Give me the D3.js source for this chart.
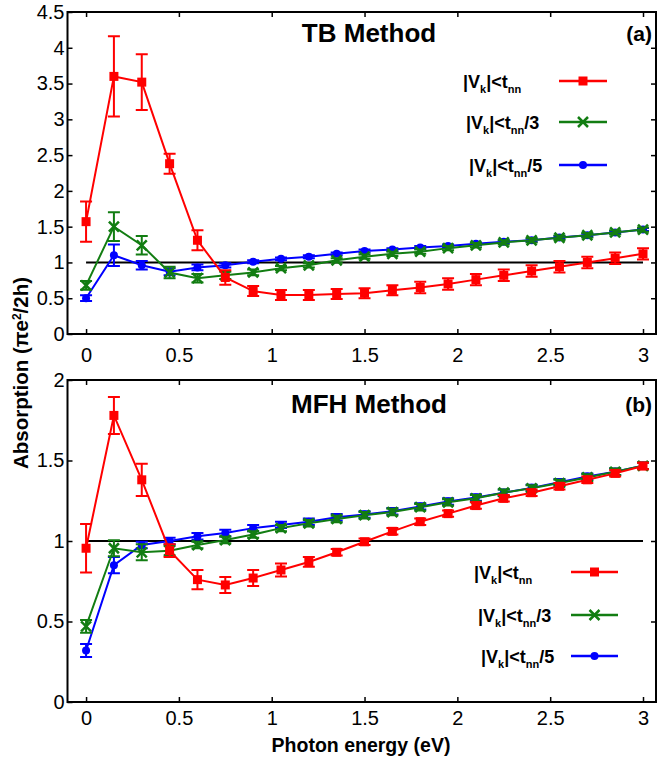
<!DOCTYPE html>
<html>
<head>
<meta charset="utf-8">
<script src="https://cdn.jsdelivr.net/npm/d3@7"></script>
<style>
  html, body { margin: 0; padding: 0; background: #fff; }
  svg { display: block; font-family: "Liberation Sans", Arial, Helvetica, sans-serif; }
</style>
</head>
<body>
<svg id="chart" width="659" height="761"></svg>
<script>
// ---------------- DATA ----------------
const energies = [0, 0.15, 0.3, 0.45, 0.6, 0.75, 0.9, 1.05, 1.2, 1.35, 1.5,
                  1.65, 1.8, 1.95, 2.1, 2.25, 2.4, 2.55, 2.7, 2.85, 3.0];

// Panel (a) TB Method
const tbRed   = [1.57, 3.60, 3.52, 2.38, 1.31, 0.79, 0.60, 0.545, 0.545, 0.56, 0.57,
                 0.61, 0.65, 0.70, 0.76, 0.82, 0.88, 0.94, 1.00, 1.06, 1.12];
const tbRedErr   = [0.28, 0.56, 0.39, 0.14, 0.14, 0.10, 0.07, 0.07, 0.07, 0.07, 0.07,
                    0.07, 0.08, 0.08, 0.08, 0.08, 0.08, 0.08, 0.08, 0.08, 0.08];
const tbGreen = [0.68, 1.50, 1.24, 0.86, 0.78, 0.82, 0.86, 0.92, 0.96, 1.03, 1.08,
                 1.12, 1.15, 1.20, 1.24, 1.28, 1.31, 1.345, 1.38, 1.42, 1.46];
const tbGreenErr = [0.06, 0.20, 0.13, 0.08, 0.06, 0.05, 0.04, 0.03, 0.03, 0.03, 0.03,
                    0.03, 0.03, 0.03, 0.03, 0.03, 0.03, 0.03, 0.03, 0.03, 0.03];
const tbBlue  = [0.50, 1.10, 0.96, 0.87, 0.93, 0.96, 1.01, 1.05, 1.08, 1.12, 1.16,
                 1.18, 1.21, 1.23, 1.26, 1.29, 1.31, 1.35, 1.38, 1.42, 1.46];
const tbBlueErr  = [0.04, 0.15, 0.06, 0.05, 0.04, 0.03, 0.02, 0.02, 0.02, 0.02, 0.02,
                    0.02, 0.02, 0.02, 0.02, 0.02, 0.02, 0.02, 0.02, 0.02, 0.02];

// Panel (b) MFH Method
const mfhRed   = [0.955, 1.78, 1.38, 0.94, 0.76, 0.727, 0.77, 0.82, 0.87, 0.93, 0.995,
                  1.06, 1.12, 1.17, 1.22, 1.265, 1.30, 1.34, 1.38, 1.42, 1.466];
const mfhRedErr   = [0.15, 0.115, 0.10, 0.04, 0.06, 0.05, 0.05, 0.04, 0.03, 0.02, 0.02,
                     0.02, 0.02, 0.02, 0.02, 0.02, 0.02, 0.02, 0.02, 0.02, 0.02];
const mfhGreen = [0.47, 0.955, 0.93, 0.94, 0.975, 1.006, 1.04, 1.08, 1.11, 1.137, 1.16,
                  1.18, 1.21, 1.24, 1.265, 1.30, 1.327, 1.36, 1.395, 1.43, 1.467];
const mfhGreenErr = [0.04, 0.05, 0.05, 0.03, 0.02, 0.02, 0.02, 0.02, 0.02, 0.02, 0.02,
                     0.02, 0.02, 0.02, 0.02, 0.02, 0.02, 0.02, 0.02, 0.02, 0.02];
const mfhBlue  = [0.32, 0.85, 0.975, 1.00, 1.03, 1.05, 1.08, 1.10, 1.12, 1.147, 1.165,
                  1.185, 1.215, 1.245, 1.27, 1.30, 1.33, 1.365, 1.40, 1.43, 1.467];
const mfhBlueErr  = [0.04, 0.05, 0.02, 0.02, 0.02, 0.02, 0.02, 0.02, 0.02, 0.02, 0.02,
                     0.02, 0.02, 0.02, 0.02, 0.02, 0.02, 0.02, 0.02, 0.02, 0.02];

const xTicks = [0, 0.5, 1, 1.5, 2, 2.5, 3];
const xTickLabels = ["0", "0.5", "1", "1.5", "2", "2.5", "3"];
const tbYTicks = [0, 0.5, 1, 1.5, 2, 2.5, 3, 3.5, 4, 4.5];
const tbYTickLabels = ["0", "0.5", "1", "1.5", "2", "2.5", "3", "3.5", "4", "4.5"];
const mfhYTicks = [0, 0.5, 1, 1.5, 2];
const mfhYTickLabels = ["0", "0.5", "1", "1.5", "2"];

const seriesNames = ["|V_k|<t_nn", "|V_k|<t_nn/3", "|V_k|<t_nn/5"];
const seriesSuffix = ["", "/3", "/5"];
const seriesColors = ["#ff0000", "#127d12", "#0000ff"];
const seriesMarkers = ["square", "cross", "circle"];
const referenceLevel = 1;

// ---------------- DRAW ----------------
const svg = d3.select("#chart");
const x = d3.scaleLinear().domain([-0.1, 3.07]).range([67.5, 656]);

const panels = [
  { title: "TB Method", tag: "(a)", top: 12, bottom: 334, ymax: 4.5,
    yTicks: tbYTicks, yLabels: tbYTickLabels,
    series: [[tbRed, tbRedErr], [tbGreen, tbGreenErr], [tbBlue, tbBlueErr]],
    titleY: 42, tagY: 41, labelPad: 14,
    legend: { textX: [463, 466, 469], x1: 559, x2: 607, ys: [81, 122, 165] } },
  { title: "MFH Method", tag: "(b)", top: 380, bottom: 702, ymax: 2,
    yTicks: mfhYTicks, yLabels: mfhYTickLabels,
    series: [[mfhRed, mfhRedErr], [mfhGreen, mfhGreenErr], [mfhBlue, mfhBlueErr]],
    titleY: 413, tagY: 412, labelPad: 9,
    legend: { textX: [474, 478, 481], x1: 571, x2: 618, ys: [572, 615, 656] } }
];

function drawMarker(g, type, cx, cy, color) {
  if (type === "square") {
    g.append("rect").attr("x", cx - 4.5).attr("y", cy - 4.5)
      .attr("width", 9).attr("height", 9).attr("fill", color);
  } else if (type === "cross") {
    const s = 5;
    g.append("path")
      .attr("d", `M${cx - s},${cy - s}L${cx + s},${cy + s}M${cx - s},${cy + s}L${cx + s},${cy - s}`)
      .attr("stroke", color).attr("stroke-width", 2.5).attr("fill", "none");
  } else {
    g.append("circle").attr("cx", cx).attr("cy", cy).attr("r", 4).attr("fill", color);
  }
}

panels.forEach(p => {
  const y = d3.scaleLinear().domain([0, p.ymax]).range([p.bottom, p.top]);
  const g = svg.append("g");
  const tickFont = "20px";

  // axes (ticks inward)
  const bx = g.append("g").attr("transform", `translate(0,${p.bottom})`)
    .call(d3.axisBottom(x).tickValues(xTicks).tickFormat((d, i) => xTickLabels[i])
      .tickSize(-5).tickPadding(p.labelPad));
  const tx = g.append("g").attr("transform", `translate(0,${p.top})`)
    .call(d3.axisTop(x).tickValues(xTicks).tickFormat("").tickSize(-5));
  const ly = g.append("g").attr("transform", `translate(${x.range()[0]},0)`)
    .call(d3.axisLeft(y).tickValues(p.yTicks).tickFormat((d, i) => p.yLabels[i])
      .tickSize(-5).tickPadding(3));
  const ry = g.append("g").attr("transform", `translate(${x.range()[1]},0)`)
    .call(d3.axisRight(y).tickValues(p.yTicks.filter(v => v > 0 && v < p.ymax)).tickFormat("").tickSize(-5));
  [bx, tx, ly, ry].forEach(a => {
    a.select(".domain").remove();
    a.selectAll(".tick line").attr("stroke", "#000").attr("stroke-width", 1.5);
    a.selectAll("text").attr("font-size", tickFont).attr("fill", "#000")
      .attr("font-family", "'Liberation Sans', Arial, sans-serif");
  });

  // frame
  g.append("rect").attr("x", x.range()[0]).attr("y", p.top)
    .attr("width", x.range()[1] - x.range()[0]).attr("height", p.bottom - p.top)
    .attr("fill", "none").attr("stroke", "#000").attr("stroke-width", 2);

  // reference line
  g.append("line").attr("x1", x(0)).attr("x2", x(3))
    .attr("y1", y(referenceLevel)).attr("y2", y(referenceLevel))
    .attr("stroke", "#000").attr("stroke-width", 2);

  // series, drawn blue, green, red
  const order = [2, 1, 0];
  const line = d3.line().x(d => x(d[0])).y(d => y(d[1]));
  order.forEach(si => {
    const [vals, errs] = p.series[si];
    const color = seriesColors[si];
    const sg = g.append("g");
    const pts = energies.map((e, i) => [e, vals[i]]);
    sg.append("path").attr("d", line(pts)).attr("fill", "none")
      .attr("stroke", color).attr("stroke-width", 2);
    energies.forEach((e, i) => {
      const cx = x(e), y1 = y(vals[i] + errs[i]), y2 = y(vals[i] - errs[i]);
      sg.append("path")
        .attr("d", `M${cx},${y1}V${y2}M${cx - 6},${y1}H${cx + 6}M${cx - 6},${y2}H${cx + 6}`)
        .attr("stroke", color).attr("stroke-width", 2).attr("fill", "none");
    });
    energies.forEach((e, i) => drawMarker(sg, seriesMarkers[si], x(e), y(vals[i]), color));
  });

  // title & tag
  g.append("text").attr("x", 369).attr("y", p.titleY).attr("text-anchor", "middle")
    .attr("font-size", "26px").attr("font-weight", "bold").text(p.title);
  g.append("text").attr("x", 652).attr("y", p.tagY).attr("text-anchor", "end")
    .attr("font-size", "21px").attr("font-weight", "bold").text(p.tag);

  // legend
  const L = p.legend;
  seriesNames.forEach((name, si) => {
    const ly0 = L.ys[si];
    const t = g.append("text").attr("x", L.textX[si]).attr("y", ly0 + 7)
      .attr("font-size", "18px").attr("font-weight", "bold");
    t.append("tspan").text("|V");
    t.append("tspan").attr("dy", 5).attr("font-size", "11px").text("k");
    t.append("tspan").attr("dy", -5).text("|<t");
    t.append("tspan").attr("dy", 5).attr("font-size", "11px").text("nn");
    if (seriesSuffix[si]) t.append("tspan").attr("dy", -5).text(seriesSuffix[si]);
    const color = seriesColors[si];
    g.append("line").attr("x1", L.x1).attr("x2", L.x2).attr("y1", ly0).attr("y2", ly0)
      .attr("stroke", color).attr("stroke-width", 2.5);
    drawMarker(g, seriesMarkers[si], (L.x1 + L.x2) / 2, ly0, color);
  });
});

// axis titles
svg.append("text").attr("x", 361).attr("y", 752).attr("text-anchor", "middle")
  .attr("font-size", "19.5px").attr("font-weight", "bold").text("Photon energy (eV)");
const yTitle = svg.append("text").attr("transform", "translate(28,373) rotate(-90)")
  .attr("text-anchor", "middle").attr("font-size", "20.5px").attr("font-weight", "bold");
yTitle.append("tspan").text("Absorption (πe");
yTitle.append("tspan").attr("dy", -7).attr("font-size", "12px").text("2");
yTitle.append("tspan").attr("dy", 7).text("/2h)");
</script>
</body>
</html>
